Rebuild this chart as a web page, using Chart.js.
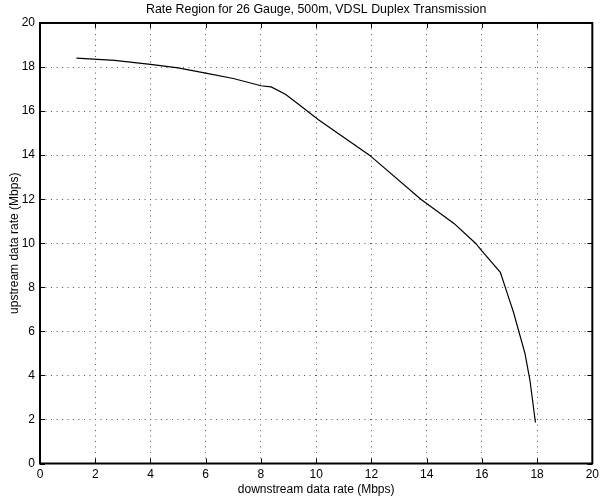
<!DOCTYPE html>
<html>
<head>
<meta charset="utf-8">
<script src="https://cdn.jsdelivr.net/npm/chart.js@4.4.0/dist/chart.umd.min.js"></script>
<style>
  html, body { margin: 0; padding: 0; background: #fff; }
  #wrap { width: 603px; height: 497px; }
</style>
</head>
<body>
<div id="wrap"><canvas id="rateChart"></canvas></div>
<script>
// rate region curve
const downstream = [1.32, 2.7, 4.0, 5.0, 6.0, 7.0, 8.0, 8.37, 8.9, 9.35, 10.07, 11.93, 13.79, 14.99, 15.77, 16.0, 16.67, 17.0, 17.14, 17.56, 17.74, 17.94];
const upstream = [18.40, 18.30, 18.12, 17.96, 17.72, 17.48, 17.15, 17.10, 16.75, 16.32, 15.62, 14.0, 12.0, 10.90, 10.0, 9.65, 8.68, 7.42, 6.89, 5.0, 3.79, 1.86];
const xTicks = [0, 2, 4, 6, 8, 10, 12, 14, 16, 18, 20];
const yTicks = [0, 2, 4, 6, 8, 10, 12, 14, 16, 18, 20];

const FONT = 'Liberation Sans, Arial, Helvetica, sans-serif';

// matlab style box with inward ticks
const boxPlugin = {
  id: 'box',
  afterDatasetsDraw(chart) {
    const { ctx, chartArea: a, scales } = chart;
    ctx.save();
    ctx.strokeStyle = '#000';
    ctx.lineWidth = 1;
    ctx.beginPath();
    xTicks.forEach((v) => {
      const px = Math.round(scales.x.getPixelForValue(v)) + 0.5;
      ctx.moveTo(px, a.bottom); ctx.lineTo(px, a.bottom - 5);
      ctx.moveTo(px, a.top); ctx.lineTo(px, a.top + 5);
    });
    yTicks.forEach((v) => {
      const py = Math.round(scales.y.getPixelForValue(v)) + 0.5;
      ctx.moveTo(a.left, py); ctx.lineTo(a.left + 5, py);
      ctx.moveTo(a.right, py); ctx.lineTo(a.right - 5, py);
    });
    ctx.stroke();
    ctx.lineWidth = 2;
    ctx.strokeRect(a.left, a.top, a.right - a.left, a.bottom - a.top);
    ctx.restore();
  },
};

const ctx = document.getElementById('rateChart').getContext('2d');
new Chart(ctx, {
  type: 'line',
  data: {
    datasets: [
      {
        data: downstream.map((x, i) => ({ x: x, y: upstream[i] })),
        borderColor: '#000',
        borderWidth: 1.2,
        pointRadius: 0,
        tension: 0,
        fill: false,
      },
    ],
  },
  options: {
    responsive: true,
    maintainAspectRatio: false,
    animation: false,
    layout: { padding: { left: 0, right: 7, top: 0, bottom: 0 } },
    plugins: {
      legend: { display: false },
      tooltip: { enabled: false },
      title: {
        display: true,
        fullSize: false,
        text: 'Rate Region for 26 Gauge, 500m, VDSL Duplex Transmission',
        color: '#000',
        font: { family: FONT, size: 12.4, weight: 'normal' },
        padding: { top: 2, bottom: 6.1 },
      },
    },
    scales: {
      x: {
        type: 'linear',
        min: 0,
        max: 20,
        afterBuildTicks: (s) => { s.ticks = xTicks.map((v) => ({ value: v })); },
        afterFit: (s) => { s.height = 33.5; },
        grid: { color: '#555', drawTicks: false },
        border: { display: false, dash: [1, 4.5] },
        ticks: { color: '#000', padding: 4, font: { family: FONT, size: 12 } },
        title: {
          display: true,
          text: 'downstream data rate (Mbps)',
          color: '#000',
          padding: { top: 1, bottom: 0 },
          font: { family: FONT, size: 12 },
        },
      },
      y: {
        type: 'linear',
        min: 0,
        max: 20,
        afterBuildTicks: (s) => { s.ticks = yTicks.map((v) => ({ value: v })); },
        afterFit: (s) => { s.width = 40; },
        grid: { color: '#555', drawTicks: false },
        border: { display: false, dash: [1, 4.5] },
        ticks: { color: '#000', padding: 5, font: { family: FONT, size: 12 } },
        title: {
          display: true,
          text: 'upstream data rate (Mbps)',
          color: '#000',
          padding: { top: 7, bottom: 0 },
          font: { family: FONT, size: 12 },
        },
      },
    },
  },
  plugins: [boxPlugin],
});
</script>
</body>
</html>
